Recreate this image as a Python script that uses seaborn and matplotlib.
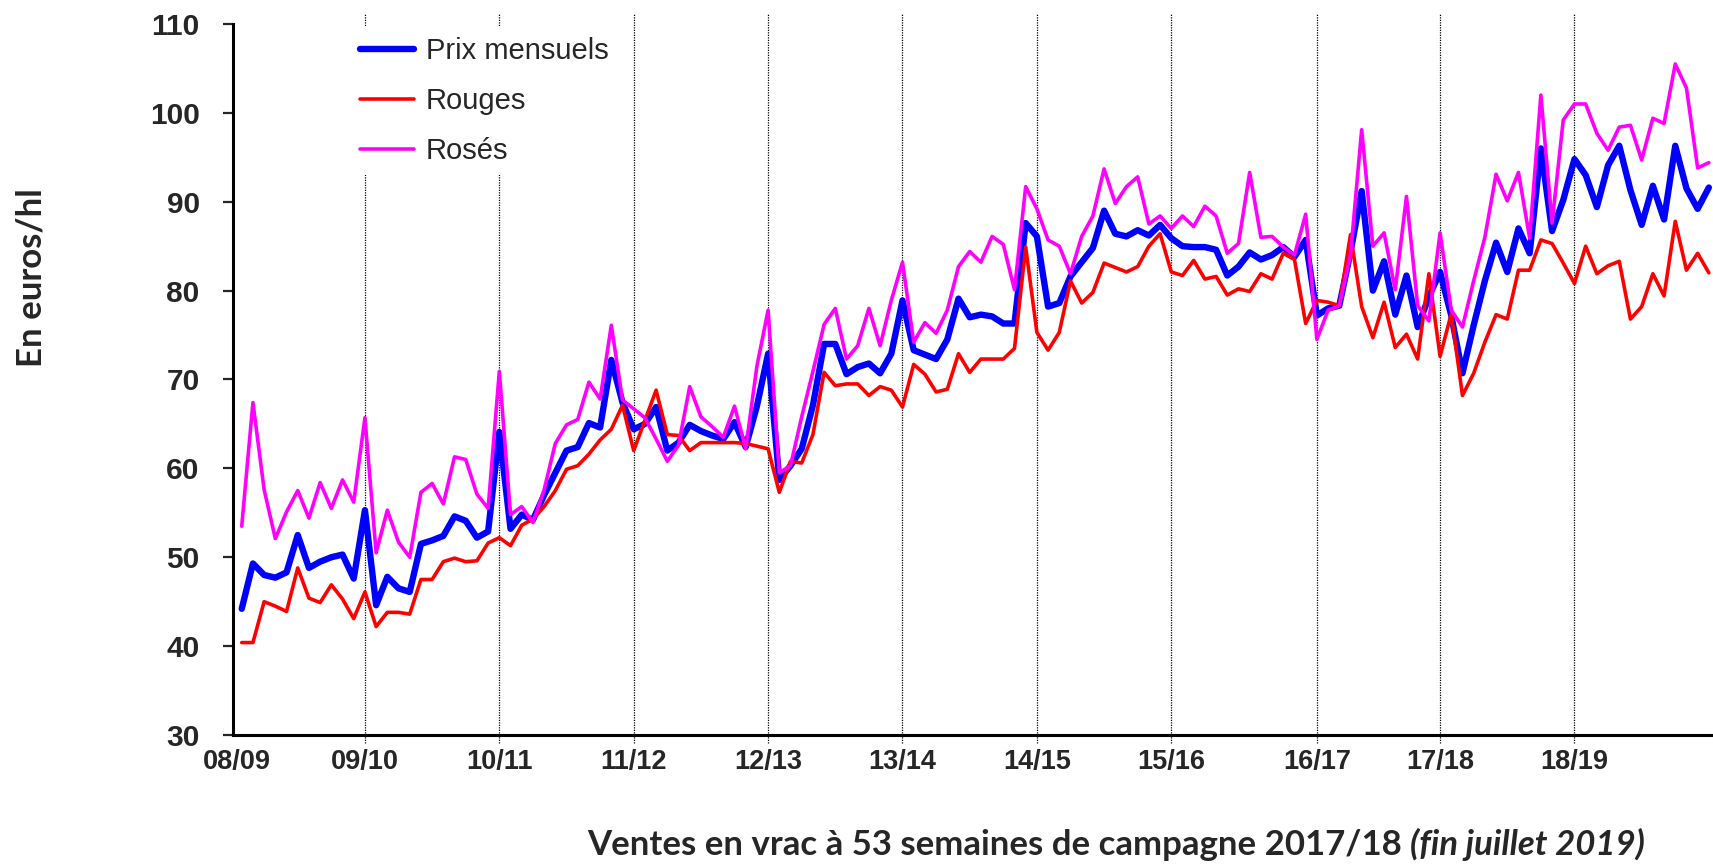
import numpy as np
import pandas as pd
import matplotlib
matplotlib.use('Agg')
import matplotlib.pyplot as plt
import seaborn as sns

# ── Prix vrac mensuels (euros/hl), août 2008 -> juillet 2019 ──
prix = [44.2, 49.3, 48.0, 47.7, 48.3, 52.5, 48.8, 49.5, 50.0, 50.3, 47.6,
        55.3, 44.6, 47.8, 46.5, 46.1, 51.5, 51.9, 52.4, 54.6, 54.1, 52.2, 52.9,
        64.1, 53.2, 54.8, 54.2, 57.0, 59.5, 62.0, 62.4, 65.1, 64.6, 72.2, 67.4,
        64.4, 65.0, 66.9, 62.0, 62.9, 64.9, 64.2, 63.7, 63.3, 65.2, 62.4, 67.0,
        72.9, 58.7, 60.3, 62.2, 67.1, 74.0, 74.0, 70.6, 71.4, 71.8, 70.7, 72.9,
        78.9, 73.3, 72.8, 72.3, 74.5, 79.1, 77.0, 77.3, 77.1, 76.3, 76.3, 87.6,
        86.1, 78.2, 78.6, 81.6, 83.2, 84.8, 89.0, 86.4, 86.1, 86.8, 86.2, 87.4,
        85.9, 85.0, 84.9, 84.9, 84.6, 81.7, 82.7, 84.3, 83.5, 84.0, 84.9, 83.8, 85.7,
        77.2, 78.0, 78.3, 84.3, 91.2, 80.0, 83.3, 77.3, 81.7, 75.9, 79.3,
        82.1, 77.2, 70.7, 76.1, 81.1, 85.4, 82.1, 87.0, 84.2, 96.0, 86.7, 90.2,
        94.8, 93.0, 89.4, 94.1, 96.3, 91.3, 87.4, 91.8, 88.0, 96.3, 91.5, 89.2, 91.6]

rouges = [40.4, 40.4, 45.0, 44.5, 43.9, 48.8, 45.4, 44.9, 46.9, 45.3, 43.1,
          46.1, 42.2, 43.8, 43.8, 43.6, 47.5, 47.5, 49.5, 49.9, 49.5, 49.6, 51.6,
          52.2, 51.3, 53.6, 54.3, 55.7, 57.5, 59.9, 60.3, 61.6, 63.2, 64.4, 67.1,
          62.0, 65.4, 68.8, 63.8, 63.7, 62.0, 62.9, 62.9, 62.9, 62.9, 62.8, 62.5,
          62.2, 57.3, 60.8, 60.6, 63.8, 70.8, 69.3, 69.5, 69.5, 68.2, 69.2, 68.8,
          66.9, 71.7, 70.6, 68.6, 68.9, 72.9, 70.8, 72.3, 72.3, 72.3, 73.5, 84.9,
          75.3, 73.3, 75.3, 81.1, 78.6, 79.8, 83.1, 82.6, 82.1, 82.7, 85.0, 86.4,
          82.1, 81.7, 83.4, 81.3, 81.6, 79.5, 80.2, 79.9, 81.9, 81.3, 84.2, 83.5, 76.3,
          78.9, 78.7, 78.3, 86.3, 78.2, 74.7, 78.7, 73.6, 75.1, 72.3, 81.9,
          72.6, 77.4, 68.2, 70.7, 74.2, 77.3, 76.8, 82.3, 82.3, 85.7, 85.3, 83.1,
          80.8, 85.0, 81.9, 82.8, 83.3, 76.8, 78.2, 81.9, 79.4, 87.8, 82.3, 84.2, 82.0]

roses = [53.5, 67.4, 57.6, 52.1, 55.1, 57.5, 54.4, 58.4, 55.5, 58.7, 56.2,
         65.7, 50.5, 55.3, 51.7, 50.0, 57.3, 58.3, 56.0, 61.3, 61.0, 57.1, 55.5,
         70.9, 54.8, 55.7, 53.9, 57.6, 62.8, 64.9, 65.5, 69.7, 67.8, 76.1, 67.7,
         66.7, 65.7, 63.3, 60.8, 62.6, 69.2, 65.8, 64.7, 63.5, 67.0, 62.2, 71.5,
         77.8, 59.5, 60.3, 65.8, 70.9, 76.2, 78.0, 72.3, 73.8, 78.0, 73.8, 78.9,
         83.2, 74.2, 76.4, 75.2, 77.8, 82.7, 84.4, 83.2, 86.1, 85.2, 80.1, 91.7,
         89.2, 85.7, 85.0, 81.9, 86.1, 88.4, 93.7, 89.8, 91.7, 92.8, 87.5, 88.4,
         87.0, 88.4, 87.2, 89.5, 88.4, 84.2, 85.3, 93.3, 86.0, 86.1, 84.9, 84.0, 88.6,
         74.5, 77.8, 78.3, 84.0, 98.1, 85.0, 86.5, 80.1, 90.6, 78.3, 76.6,
         86.5, 77.8, 75.9, 81.1, 86.0, 93.1, 90.1, 93.3, 85.9, 102.0, 87.6, 99.2,
         101.0, 101.0, 97.7, 95.8, 98.4, 98.6, 94.7, 99.4, 98.8, 105.5, 102.8, 93.8, 94.4]

campagnes = ['08/09', '09/10', '10/11', '11/12', '12/13', '13/14',
             '14/15', '15/16', '16/17', '17/18', '18/19']
# position (en mois) de chaque étiquette de campagne
pos_campagnes = [-0.4, 11, 23, 35, 47, 59, 71, 83, 96, 107, 119]

sns.set_style('white')
plt.rcParams['font.family'] = ['Liberation Sans', 'DejaVu Sans']

W, H = 1713, 865
fig = plt.figure(figsize=(W / 100, H / 100), dpi=100)
ax = fig.add_axes([233 / W, (H - 735) / H, 1 - 233 / W, 711 / H])

df = pd.DataFrame({'mois': np.arange(len(prix)), 'Prix mensuels': prix,
                   'Rouges': rouges, 'Rosés': roses})

sns.lineplot(data=df, x='mois', y='Prix mensuels', color='#0000FF', lw=4.6,
             ax=ax, label='Prix mensuels', zorder=3)
sns.lineplot(data=df, x='mois', y='Rouges', color='#FF0000', lw=2.6,
             ax=ax, label='Rouges', zorder=4)
sns.lineplot(data=df, x='mois', y='Rosés', color='#FF00FF', lw=2.6,
             ax=ax, label='Rosés', zorder=5)

ax.set_xlim(-0.78, 131.37)
ax.set_ylim(30, 110)

# séparateurs de campagnes (pointillés)
ax.vlines(pos_campagnes[1:], 29.1, 111.1, colors='black', linestyles=(0, (1, 1)),
          lw=0.9, zorder=1, clip_on=False)

ax.set_yticks(np.arange(30, 111, 10))
ax.set_xticks(pos_campagnes)
ax.set_xticklabels(campagnes)
ax.tick_params(axis='y', direction='out', length=7, width=1.6, labelsize=21.5,
               pad=17, left=True)
ax.tick_params(axis='x', length=0, labelsize=19.5, pad=10)
for lab in ax.get_yticklabels() + ax.get_xticklabels():
    lab.set_fontweight('bold')

for s in ['top', 'right']:
    ax.spines[s].set_visible(False)
for s in ['left', 'bottom']:
    ax.spines[s].set_color('black')
    ax.spines[s].set_linewidth(2.2)

ax.set_xlabel('')
ax.set_ylabel('')

fig.text(32 / W, 1 - 278 / H, 'En euros/hl', rotation=90, ha='center', va='center',
         fontsize=25, fontweight='bold', family=['Lato', 'DejaVu Sans'])

t1 = fig.text(587 / W, 1 - 845 / H, 'Ventes en vrac à 53 semaines de campagne 2017/18 ',
              ha='left', va='center', fontsize=25, fontweight='bold',
              family=['Lato', 'DejaVu Sans'])
ax.annotate('(fin juillet 2019)', xy=(1, 0), xycoords=t1, ha='left', va='bottom',
            fontsize=25, fontweight='bold', fontstyle='italic',
            family=['Lato', 'DejaVu Sans'], annotation_clip=False)

leg = ax.legend(loc='upper left', bbox_to_anchor=(350 / W, 1 - 27 / H),
                bbox_transform=fig.transFigure, fontsize=21, frameon=True,
                fancybox=False, edgecolor='none', facecolor='white', framealpha=1,
                handlelength=1.85, handletextpad=0.4, labelspacing=0.75,
                borderpad=0.35, borderaxespad=0)
leg.set_zorder(6)

fig.savefig('out.png', dpi=100)
